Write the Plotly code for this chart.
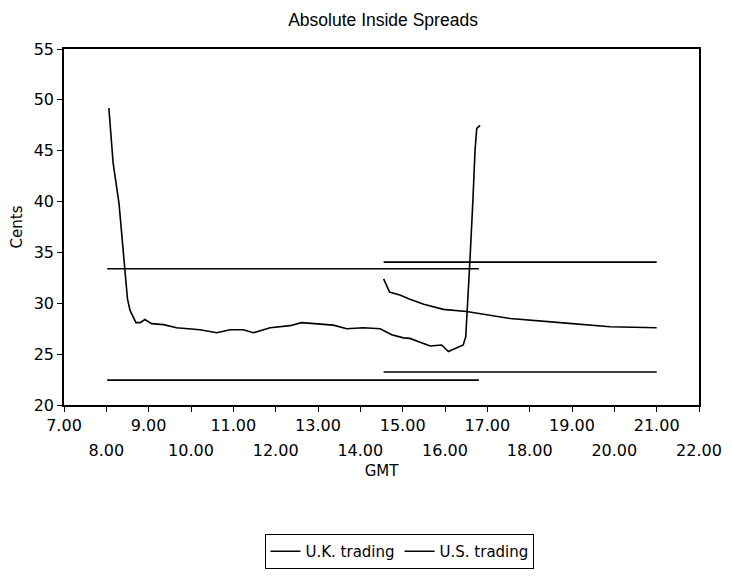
import plotly.graph_objects as go

# ---- data ----
uk_time = [8.06, 8.16, 8.30, 8.40, 8.44, 8.50, 8.56, 8.64, 8.70, 8.80, 8.91, 9.07,
           9.35, 9.66, 9.98, 10.21, 10.61, 10.92, 11.24, 11.47, 11.87, 12.34, 12.61,
           12.97, 13.36, 13.68, 14.07, 14.47, 14.74, 15.02, 15.17, 15.65, 15.92,
           16.08, 16.28, 16.43, 16.49, 16.53, 16.59, 16.66, 16.71, 16.75, 16.83]
uk_spread = [49.2, 43.8, 39.8, 35.2, 33.4, 30.4, 29.3, 28.6, 28.1, 28.1, 28.4, 28.0,
             27.9, 27.6, 27.5, 27.4, 27.1, 27.4, 27.4, 27.1, 27.6, 27.8, 28.1,
             27.95, 27.85, 27.5, 27.6, 27.5, 26.9, 26.6, 26.55, 25.8, 25.9,
             25.25, 25.65, 25.9, 26.7, 29.3, 34.3, 40.2, 45.1, 47.2, 47.5]

us_time = [14.55, 14.69, 14.95, 15.17, 15.50, 15.96, 16.51, 17.54, 18.72, 19.90, 21.00]
us_spread = [32.4, 31.1, 30.8, 30.4, 29.9, 29.4, 29.2, 28.5, 28.1, 27.7, 27.6]

uk_band_time = [8.02, 16.80]
uk_band_upper = [33.4, 33.4]
uk_band_lower = [22.45, 22.45]

us_band_time = [14.55, 21.00]
us_band_upper = [34.05, 34.05]
us_band_lower = [23.25, 23.25]

tick_vals = list(range(7, 23))
odd_vals = [v for v in tick_vals if v % 2 == 1]
even_vals = [v for v in tick_vals if v % 2 == 0]
odd_text = ["%d.00" % v for v in odd_vals]
even_text = ["%d.00" % v for v in even_vals]
y_ticks = [20, 25, 30, 35, 40, 45, 50, 55]

TFONT = "Liberation Sans, Arial, sans-serif"
LFONT = "DejaVu Sans, Liberation Sans, sans-serif"
fig = go.Figure()

line_style = dict(color="black", width=1.6)

fig.add_trace(go.Scatter(x=uk_time, y=uk_spread, mode="lines", line=line_style,
                         name="U.K. trading", legendgroup="uk"))
fig.add_trace(go.Scatter(x=uk_band_time, y=uk_band_upper, mode="lines", line=line_style,
                         showlegend=False, legendgroup="uk"))
fig.add_trace(go.Scatter(x=uk_band_time, y=uk_band_lower, mode="lines", line=line_style,
                         showlegend=False, legendgroup="uk"))
fig.add_trace(go.Scatter(x=us_time, y=us_spread, mode="lines", line=line_style,
                         name="U.S. trading", legendgroup="us"))
fig.add_trace(go.Scatter(x=us_band_time, y=us_band_upper, mode="lines", line=line_style,
                         showlegend=False, legendgroup="us"))
fig.add_trace(go.Scatter(x=us_band_time, y=us_band_lower, mode="lines", line=line_style,
                         showlegend=False, legendgroup="us"))
# invisible helper trace on the second (even-label) x axis
fig.add_trace(go.Scatter(x=[7, 22], y=[20, 20], xaxis="x2", mode="lines",
                         line=dict(width=0), hoverinfo="skip", showlegend=False))

fig.update_layout(
    width=724, height=568,
    margin=dict(l=56, r=33, t=41, b=171),
    paper_bgcolor="white", plot_bgcolor="white",
    font=dict(family=LFONT, size=15, color="black"),
    title=dict(text="Absolute Inside Spreads", x=0.518, xanchor="center",
               xref="container", yref="container",
               y=0.979, yanchor="middle", font=dict(family=TFONT, size=17.5, color="black")),
    showlegend=True,
    legend=dict(orientation="h", xref="container", yref="container",
                x=0.5414, xanchor="center", y=0.0431, yanchor="middle",
                bordercolor="black", borderwidth=1, bgcolor="white",
                font=dict(family=LFONT, size=15), tracegroupgap=0),
    xaxis=dict(range=[7, 22], tickmode="array", tickvals=tick_vals,
               ticktext=[("%d.00" % v) if v % 2 == 1 else "" for v in tick_vals],
               ticks="outside", ticklen=5, tickcolor="black", showgrid=False,
               zeroline=False, showline=True, linecolor="black", linewidth=1.5,
               mirror=True, automargin=False,
               title=dict(text="GMT", standoff=32, font=dict(family=LFONT, size=15)),
               tickfont=dict(family=LFONT, size=16)),
    xaxis2=dict(range=[7, 22], overlaying="x", anchor="y", side="bottom",
                tickmode="array", tickvals=even_vals, ticktext=even_text,
                ticks="", showgrid=False, zeroline=False, showline=False,
                automargin=False, ticklabelstandoff=34,
                tickfont=dict(family=LFONT, size=16)),
    yaxis=dict(range=[20, 55], tickmode="array", tickvals=y_ticks,
               ticks="outside", ticklen=5, tickcolor="black", showgrid=False,
               zeroline=False, showline=True, linecolor="black", linewidth=1.5,
               mirror=True, automargin=False,
               title=dict(text="Cents", standoff=8, font=dict(family=LFONT, size=15)),
               tickfont=dict(family=LFONT, size=16)),
)

fig.write_html("out.html")
